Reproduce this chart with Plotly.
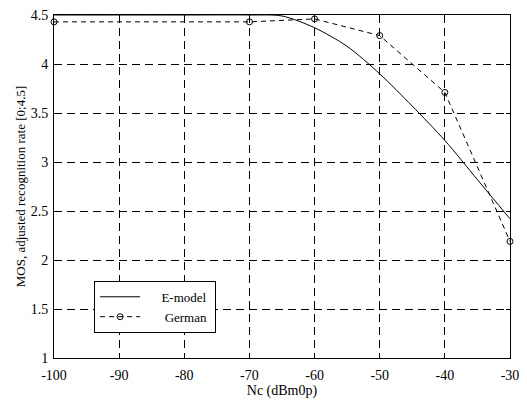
import plotly.graph_objects as go

# E-model curve
emodel_x = [-100, -90, -80, -70, -65, -60, -55, -50, -45, -40, -35, -30]
emodel_y = [4.5, 4.5, 4.5, 4.5, 4.49, 4.37, 4.18, 3.90, 3.57, 3.22, 2.82, 2.42]

# German measurement points
german_x = [-100, -70, -60, -50, -40, -30]
german_y = [4.43, 4.43, 4.46, 4.29, 3.71, 2.19]

xticks = [-100, -90, -80, -70, -60, -50, -40, -30]
yticks = [1, 1.5, 2, 2.5, 3, 3.5, 4, 4.5]

font = "Liberation Serif, Times New Roman, serif"
NB = "\u00a0"

fig = go.Figure()
fig.add_trace(go.Scatter(x=emodel_x, y=emodel_y, mode="lines", name=NB * 5 + "E-model" + NB,
                         line=dict(color="black", width=1), line_shape="spline",
                         line_smoothing=0.8))
fig.add_trace(go.Scatter(x=german_x, y=german_y, mode="lines+markers", name=NB * 6 + "German",
                         line=dict(color="black", width=1, dash="5px,4px"),
                         marker=dict(symbol="circle-open", size=6, color="black",
                                     line=dict(width=1, color="black")),
                         cliponaxis=False))

axis_common = dict(showline=True, linecolor="black", linewidth=1, mirror="ticks",
                   showgrid=True, gridcolor="black", gridwidth=1, griddash="8px,5px",
                   zeroline=False, ticks="inside", ticklen=4, tickcolor="black",
                   tickfont=dict(family=font, size=14, color="black"))

fig.update_xaxes(range=[-100, -30], tickvals=xticks, ticktext=[str(v) for v in xticks],
                 ticklabeloverflow="allow", ticklabelstandoff=4,
                 title=dict(text="Nc (dBm0p)", font=dict(family=font, size=14, color="black"),
                            standoff=2),
                 **axis_common)
fig.update_yaxes(range=[1, 4.5], tickvals=yticks, ticktext=[f"{v:g}" for v in yticks],
                 ticklabelstandoff=2,
                 title=dict(text="MOS, adjusted recognition rate [0;4.5]",
                            font=dict(family=font, size=13, color="black"), standoff=2),
                 **axis_common)

fig.update_layout(width=527, height=403, margin=dict(l=54, r=8, t=15, b=45),
                  plot_bgcolor="white", paper_bgcolor="white",
                  font=dict(family=font, size=14, color="black"),
                  legend=dict(x=0.088, y=0.225, xanchor="left", yanchor="top",
                              bordercolor="black", borderwidth=1, bgcolor="white",
                              font=dict(family=font, size=13, color="black"),
                              tracegroupgap=0, itemwidth=40))

fig.write_html("out.html")
